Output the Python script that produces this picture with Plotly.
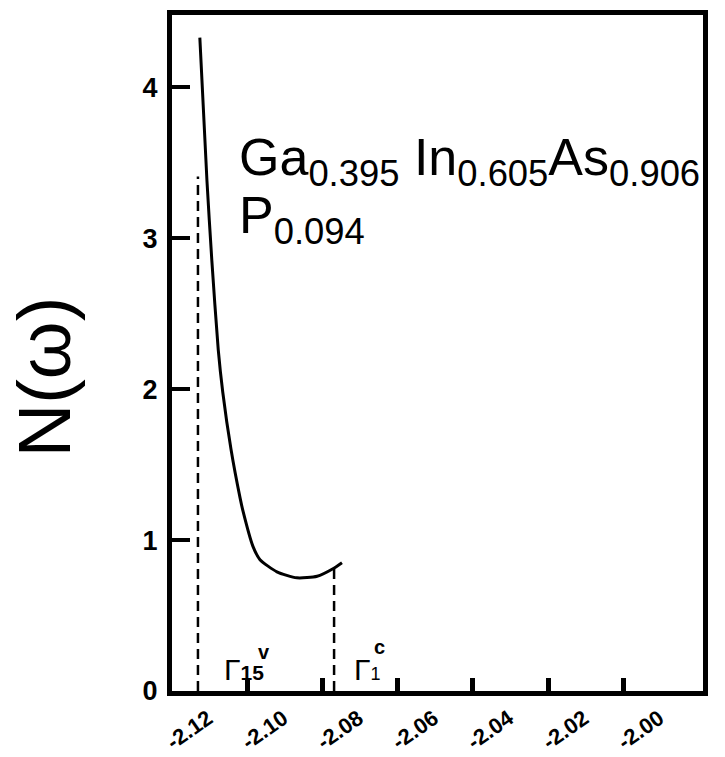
import plotly.graph_objects as go

# Density of states curve N(omega) vs energy
energy = [-2.1126, -2.1107, -2.1094, -2.1077, -2.1065, -2.1043, -2.1019, -2.1011,
          -2.0985, -2.0966, -2.0921, -2.0868, -2.0814, -2.0772, -2.0748]
dos = [4.33, 3.38, 2.85, 2.26, 1.98, 1.60, 1.28, 1.19,
       0.96, 0.87, 0.79, 0.75, 0.76, 0.81, 0.85]

# Band-edge markers (dashed verticals)
edge_x = [-2.1131, -2.0769]
edge_top = [3.41, 0.81]

x_ticks = [-2.12, -2.10, -2.08, -2.06, -2.04, -2.02, -2.00]
x_labels = ["-2.12", "-2.10", "-2.08", "-2.06", "-2.04", "-2.02", "-2.00"]
y_ticks = [0, 1, 2, 3, 4]
y_labels = ["0", "1", "2", "3", "4"]

FONT = "Liberation Sans"

fig = go.Figure()
fig.add_trace(go.Scatter(x=energy, y=dos, mode="lines",
                         line=dict(color="black", width=3, shape="spline", smoothing=0.6),
                         showlegend=False, hoverinfo="skip"))
for ex, et in zip(edge_x, edge_top):
    fig.add_trace(go.Scatter(x=[ex, ex], y=[0, et], mode="lines",
                             line=dict(color="black", width=2.5, dash="10px,6px"),
                             showlegend=False, hoverinfo="skip"))

fig.update_layout(
    width=725, height=757,
    margin=dict(l=172, r=22, t=15, b=66),
    paper_bgcolor="white", plot_bgcolor="white",
    font=dict(family=FONT, color="black"),
)
fig.update_xaxes(range=[-2.12, -1.9788], tickvals=x_ticks, ticktext=x_labels,
                 ticks="inside", ticklen=13, tickwidth=5, tickcolor="black",
                 showline=True, linewidth=5, linecolor="black", mirror=True,
                 showgrid=False, zeroline=False, tickangle=-35, automargin=False,
                 ticklabelshift=36, ticklabelstandoff=1,
                 tickfont=dict(size=22, weight="bold", color="black"))
fig.update_yaxes(range=[0, 4.48], tickvals=y_ticks, ticktext=y_labels,
                 ticks="inside", ticklen=18, tickwidth=4, tickcolor="black",
                 showline=True, linewidth=5, linecolor="black", mirror=True,
                 showgrid=False, zeroline=False, automargin=False,
                 ticklabelstandoff=4,
                 tickfont=dict(size=27, weight="bold", color="black"))

fig.add_annotation(text="N(ω)", textangle=-90, xref="paper", yref="paper",
                   x=-0.24, y=0.465, xanchor="center", yanchor="middle",
                   showarrow=False, font=dict(size=74, family=FONT))
fig.add_annotation(text="Ga<sub>0.395</sub> In<sub>0.605</sub>As<sub>0.906</sub>",
                   xref="x", yref="y", x=-2.1028, y=3.51, xanchor="left",
                   showarrow=False, font=dict(size=52, family=FONT))
fig.add_annotation(text="P<sub>0.094</sub>", xref="x", yref="y", x=-2.1028, y=3.13,
                   xanchor="left", showarrow=False, font=dict(size=52, family=FONT))
fig.add_annotation(text="Γ<span style='font-size:21px;font-weight:bold'>15</span>",
                   xref="x", yref="y", x=-2.1067, y=0.02,
                   xanchor="left", yanchor="bottom", showarrow=False,
                   font=dict(size=30, family=FONT))
fig.add_annotation(text="v", xref="x", yref="y", x=-2.0976, y=0.26,
                   xanchor="left", yanchor="middle", showarrow=False,
                   font=dict(size=20, weight="bold", family=FONT))
fig.add_annotation(text="Γ<span style='font-size:18px'>1</span>",
                   xref="x", yref="y", x=-2.0722, y=0.02,
                   xanchor="left", yanchor="bottom", showarrow=False,
                   font=dict(size=30, family=FONT))
fig.add_annotation(text="c", xref="x", yref="y", x=-2.0668, y=0.29,
                   xanchor="left", yanchor="middle", showarrow=False,
                   font=dict(size=20, weight="bold", family=FONT))

fig.write_html("out.html")
